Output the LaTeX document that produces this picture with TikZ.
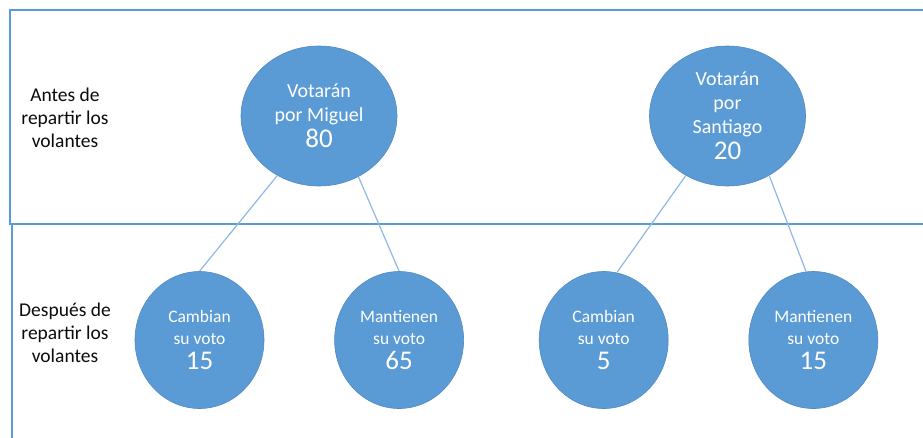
\documentclass[tikz,border=0pt]{standalone}
\usepackage{fontspec}
\setmainfont{Carlito}
\usepackage{tikz}
\usetikzlibrary{shapes.geometric,positioning}
\definecolor{disc}{HTML}{5B9BD5}
\definecolor{discedge}{HTML}{5189C2}
\definecolor{frame}{HTML}{5B9BD5}
\definecolor{wire}{HTML}{8FB8E3}
\definecolor{ink}{HTML}{0B0B0B}

\newcommand{\votes}[1]{\\[2pt]{\fontsize{27}{29}\selectfont #1}}

\begin{document}
\begin{tikzpicture}[
  x=1pt,y=-1pt,
  panel/.style={draw=frame,line width=2.6pt},
  bigdisc/.style={ellipse,draw=discedge,line width=0.6pt,fill=disc,text=white,
                  minimum width=156pt,minimum height=140pt,inner sep=0pt,align=center,
                  font=\fontsize{20}{24}\selectfont},
  smalldisc/.style={bigdisc,minimum width=129pt,minimum height=137pt,
                    font=\fontsize{17.5}{22.5}\selectfont},
  rowlabel/.style={align=center,text=ink,font=\fontsize{19.5}{23}\selectfont},
  link/.style={draw=wire,line width=1.2pt},
]
\useasboundingbox (0,0) rectangle (923,437);
\clip (0,0) rectangle (923,437);

\draw[panel] (10,10) rectangle (960,224);
\draw[panel] (12,224) rectangle (960,460);

\node[rowlabel] (antes) at (65,118) {Antes de\\repartir los\\volantes};
\node[rowlabel] (despues) at (65,333) {Después de\\repartir los\\volantes};

\node[bigdisc] (miguel) at (319,116) {Votarán\\por Miguel\votes{80}};
\node[bigdisc] (santiago) at (727.5,116) {Votarán\\por\\Santiago\votes{20}};

\node[smalldisc] (cambiaM) at (199.5,340) {Cambian\\su voto\votes{15}};
\node[smalldisc,right=70pt of cambiaM] (mantieneM) {Mantienen\\su voto\votes{65}};
\node[smalldisc,right=75pt of mantieneM] (cambiaS) {Cambian\\su voto\votes{5}};
\node[smalldisc,right=80pt of cambiaS] (mantieneS) {Mantienen\\su voto\votes{15}};

\draw[link] (miguel.235) -- (cambiaM.north);
\draw[link] (miguel.303) -- (mantieneM.north);
\draw[link] (santiago.235) -- (cambiaS.79);
\draw[link] (santiago.305) -- (mantieneS.96);
\end{tikzpicture}
\end{document}
